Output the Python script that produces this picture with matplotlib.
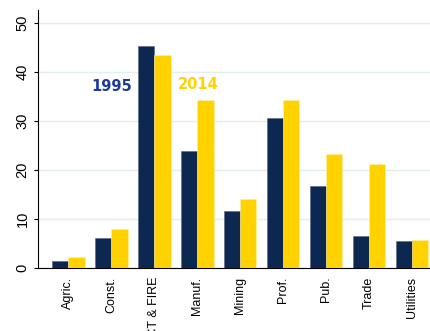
import matplotlib
matplotlib.use('Agg')
import matplotlib.pyplot as plt
import numpy as np

sectors = ['Agric.', 'Const.', 'ICT & FIRE', 'Manuf.', 'Mining',
           'Prof.', 'Pub.', 'Trade', 'Utilities']
share_1995 = [1.5, 6.1, 45.4, 23.9, 11.7, 30.6, 16.8, 6.6, 5.5]
share_2014 = [2.2, 7.9, 43.5, 34.3, 14.1, 34.4, 23.3, 21.2, 5.7]

NAVY = '#0C2851'
GOLD = '#FFD200'

plt.rcParams['font.family'] = ['Liberation Sans', 'DejaVu Sans']

fig = plt.figure(figsize=(4.3, 3.31), dpi=100)
ax = fig.add_axes([0.088, 0.19, 0.93, 0.78])

x = np.arange(len(sectors))
w = 0.38
ax.bar(x - w / 2, share_1995, width=w, color=NAVY, edgecolor='#56657e', linewidth=0.4, zorder=3)
ax.bar(x + w / 2, share_2014, width=w, color=GOLD, edgecolor='#fff0a0', linewidth=0.4, zorder=3)

# year labels sit inside the plot instead of a legend
ax.text(1.0, 37, '1995', color='#1A3A9E', fontsize=10.5, fontweight='bold',
        ha='center', va='center', family='DejaVu Sans')
ax.text(3.02, 37.5, '2014', color=GOLD, fontsize=10.5, fontweight='bold',
        ha='center', va='center', family='DejaVu Sans')

ax.set_xlim(-0.71, 8.6)
ax.set_ylim(0, 52.7)
ax.set_yticks([0, 10, 20, 30, 40, 50])
ax.set_xticks(x)
ax.set_xticklabels(sectors, rotation=90, fontsize=9)
for lbl in ax.get_yticklabels():
    lbl.set_rotation(90)
    lbl.set_va('center')
    lbl.set_fontsize(10.5)
ax.tick_params(axis='x', length=0, pad=6)
ax.tick_params(axis='y', length=3, pad=3)

ax.grid(axis='y', color='#E3EEEE', linewidth=1, zorder=0)
ax.spines['top'].set_visible(False)
ax.spines['right'].set_visible(False)

fig.savefig('out.png', dpi=100)
